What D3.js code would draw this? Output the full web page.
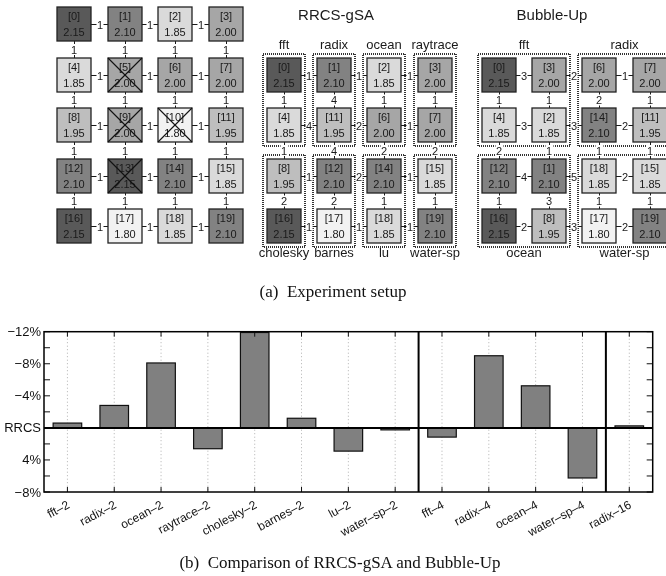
<!DOCTYPE html>
<html><head><meta charset="utf-8">
<script src="https://cdn.jsdelivr.net/npm/d3@7"></script>
<style>body{margin:0;background:#fff}svg{display:block;will-change:transform}</style>
</head><body>
<svg id="c" width="666" height="576"></svg>
<script>
// ---------- DATA ----------
const nodeFreq = [2.15,2.10,1.85,2.00,1.85,2.00,2.00,2.00,1.95,2.00,1.80,1.95,2.10,2.15,2.10,1.85,2.15,1.80,1.85,2.10];
const failedNodes = [5,9,10,13];
const freqLevels = [2.15,2.10,2.00,1.95,1.85,1.80];
const freqGrays = ["#595959","#828282","#a6a6a6","#bebebe","#dadada","#f2f2f2"];

const origLayout = [[0,1,2,3],[4,5,6,7],[8,9,10,11],[12,13,14,15],[16,17,18,19]];
const origH = [[1,1,1],[1,1,1],[1,1,1],[1,1,1],[1,1,1]];
const origV = [[1,1,1,1],[1,1,1,1],[1,1,1,1],[1,1,1,1]];

const rrcsLayout = [[0,1,2,3],[4,11,6,7],[8,12,14,15],[16,17,18,19]];
const rrcsH = [[1,1,1],[4,2,1],[1,2,1],[1,1,1]];
const rrcsV = [[1,4,1,1],[1,4,2,2],[2,2,1,1]];
const rrcsTopGroups = ["fft","radix","ocean","raytrace"];
const rrcsBottomGroups = ["cholesky","barnes","lu","water-sp"];

const bubbleLayout = [[0,3,6,7],[4,2,14,11],[12,1,18,15],[16,8,17,19]];
const bubbleH = [[3,2,1],[3,3,2],[4,5,2],[2,3,2]];
const bubbleV = [[1,1,2,1],[2,1,1,1],[1,3,1,1]];
const bubbleTopGroups = ["fft","radix"];
const bubbleBottomGroups = ["ocean","water-sp"];

const benchmarks = ["fft–2","radix–2","ocean–2","raytrace–2","cholesky–2","barnes–2","lu–2","water–sp–2","fft–4","radix–4","ocean–4","water–sp–4","radix–16"];
const diffValues = [-0.6,-2.8,-8.1,2.6,-11.9,-1.2,2.9,0.25,1.15,-9.0,-5.25,6.25,-0.25];
const yTickValues = [-12,-8,-4,0,4,8];
const yTickLabels = ["−12%","−8%","−4%","RRCS","4%","−8%"];
const yMinorTicks = [-12,-10,-8,-6,-4,-2,0,2,4,6,8];
const groupBreaks = [8,12];

// ---------- DRAW ----------
const svg = d3.select("#c");
const SANS = "'Liberation Sans', Arial, Helvetica, sans-serif";
const SERIF = "'Liberation Serif', 'Times New Roman', serif";
const gray = d3.scaleOrdinal().domain(freqLevels).range(freqGrays);
const BOX = 34;
const INK = "#1a1a1a";

function drawMesh(g, layout, hLab, vLab, xs, ys, failed) {
  const nR = layout.length, nC = layout[0].length;
  layout.forEach((row, r) => {
    for (let c = 0; c < nC - 1; c++) {
      const x1 = xs(c) + BOX, x2 = xs(c + 1), yy = ys(r) + BOX / 2 + 0.5, mx = Math.round((x1 + x2) / 2);
      g.append("line").attr("x1", x1).attr("x2", x2).attr("y1", yy).attr("y2", yy).attr("stroke", INK).attr("stroke-width", 1);
      g.append("rect").attr("x", mx - 3.5).attr("y", yy - 5.5).attr("width", 7).attr("height", 11).attr("fill", "#fff");
      g.append("text").attr("x", mx).attr("y", yy + 4).attr("text-anchor", "middle").attr("font-size", 11).attr("font-family", SANS).attr("fill", INK).text(hLab[r][c]);
    }
  });
  for (let r = 0; r < nR - 1; r++) {
    for (let c = 0; c < nC; c++) {
      const xx = xs(c) + BOX / 2 + 0.5, y1 = ys(r) + BOX, y2 = ys(r + 1), my = (y1 + y2) / 2;
      g.append("line").attr("x1", xx).attr("x2", xx).attr("y1", y1).attr("y2", y2).attr("stroke", INK).attr("stroke-width", 1);
      g.append("rect").attr("x", xx - 4).attr("y", my - 5.5).attr("width", 8).attr("height", 11).attr("fill", "#fff");
      g.append("text").attr("x", xx - 0.5).attr("y", my + 4).attr("text-anchor", "middle").attr("font-size", 11).attr("font-family", SANS).attr("fill", INK).text(vLab[r][c]);
    }
  }
  layout.forEach((row, r) => row.forEach((id, c) => {
    const xx = xs(c), yy = ys(r);
    g.append("rect").attr("x", xx).attr("y", yy).attr("width", BOX).attr("height", BOX)
      .attr("fill", gray(nodeFreq[id])).attr("stroke", "#222").attr("stroke-width", 1.3);
    g.append("text").attr("x", xx + BOX / 2).attr("y", yy + 12.5).attr("text-anchor", "middle").attr("font-size", 11).attr("font-family", SANS).attr("fill", INK).text("[" + id + "]");
    g.append("text").attr("x", xx + BOX / 2).attr("y", yy + 28.5).attr("text-anchor", "middle").attr("font-size", 11).attr("font-family", SANS).attr("fill", INK).text(d3.format(".2f")(nodeFreq[id]));
    if (failed.includes(id)) {
      g.append("line").attr("x1", xx).attr("y1", yy).attr("x2", xx + BOX).attr("y2", yy + BOX).attr("stroke", "#111").attr("stroke-width", 1.1);
      g.append("line").attr("x1", xx + BOX).attr("y1", yy).attr("x2", xx).attr("y2", yy + BOX).attr("stroke", "#111").attr("stroke-width", 1.1);
    }
  }));
}

function groupBox(g, x0, y0, x1, y1) {
  g.append("rect").attr("x", x0).attr("y", y0).attr("width", x1 - x0).attr("height", y1 - y0)
    .attr("fill", "none").attr("stroke", "#333").attr("stroke-width", 2).attr("stroke-dasharray", "1,1");
}
function label(g, xx, yy, t, size) {
  g.append("text").attr("x", xx).attr("y", yy).attr("text-anchor", "middle").attr("font-size", size).attr("font-family", SANS).attr("fill", INK).text(t);
}

const rowY = d3.scaleLinear().domain([0, 1]).range([7, 57.6]).interpolate(d3.interpolateRound);
const gO = svg.append("g");
const origX = d3.scaleLinear().domain([0, 1]).range([57, 107.5]).interpolate(d3.interpolateRound);
drawMesh(gO, origLayout, origH, origV, origX, rowY, failedNodes);

const gR = svg.append("g");
const rrX = d3.scaleLinear().domain([0, 1]).range([267, 317.2]).interpolate(d3.interpolateRound);
const rrY = r => rowY(r + 1);
const P = 4;
rrcsTopGroups.forEach((n, c) => {
  groupBox(gR, rrX(c) - P, rrY(0) - P, rrX(c) + BOX + P, rrY(1) + BOX + P);
  groupBox(gR, rrX(c) - P, rrY(2) - P, rrX(c) + BOX + P, rrY(3) + BOX + P);
});
drawMesh(gR, rrcsLayout, rrcsH, rrcsV, rrX, rrY, []);
rrcsTopGroups.forEach((n, c) => label(gR, rrX(c) + BOX / 2, 49, n, 13));
rrcsBottomGroups.forEach((n, c) => label(gR, rrX(c) + BOX / 2, 257, n, 13));
label(gR, 336, 20, "RRCS-gSA", 15);

const gB = svg.append("g");
const buX = d3.scaleLinear().domain([0, 1]).range([482, 532.2]).interpolate(d3.interpolateRound);
[[0, 0], [0, 1], [1, 0], [1, 1]].forEach(([gr, gc]) => {
  groupBox(gB, buX(gc * 2) - P, rrY(gr * 2) - P, buX(gc * 2 + 1) + BOX + P, rrY(gr * 2 + 1) + BOX + P);
});
drawMesh(gB, bubbleLayout, bubbleH, bubbleV, buX, rrY, []);
bubbleTopGroups.forEach((n, i) => label(gB, (buX(i * 2) + buX(i * 2 + 1) + BOX) / 2, 49, n, 13));
bubbleBottomGroups.forEach((n, i) => label(gB, (buX(i * 2) + buX(i * 2 + 1) + BOX) / 2, 257, n, 13));
label(gB, 552, 20, "Bubble-Up", 15);

svg.append("text").attr("x", 333).attr("y", 297).attr("text-anchor", "middle").attr("font-size", 17).attr("font-family", SERIF).attr("fill", "#111").attr("xml:space", "preserve").text("(a)  Experiment setup");

// ---------- BAR CHART ----------
const L = 44, R = 652.7, T = 331.7, B = 492;
const x = d3.scaleBand().domain(benchmarks).range([L, R]).paddingInner(0.39).paddingOuter(0.195);
const y = d3.scaleLinear().domain([-12, 8]).range([T, B]);
const gC = svg.append("g");
const cx = d => x(d) + x.bandwidth() / 2;

gC.selectAll(".grid").data(benchmarks).join("line")
  .attr("x1", cx).attr("x2", cx).attr("y1", T).attr("y2", B)
  .attr("stroke", "#b0b0b0").attr("stroke-width", 1).attr("stroke-dasharray", "1,2.5");

gC.selectAll(".bar").data(benchmarks).join("rect")
  .attr("x", d => x(d)).attr("width", x.bandwidth())
  .attr("y", (d, i) => Math.min(y(diffValues[i]), y(0)))
  .attr("height", (d, i) => Math.abs(y(diffValues[i]) - y(0)))
  .attr("fill", "#808080").attr("stroke", "#111").attr("stroke-width", 1.2);

gC.selectAll(".tb").data(benchmarks).join("line")
  .attr("x1", cx).attr("x2", cx).attr("y1", B).attr("y2", B - 5).attr("stroke", "#111");
gC.selectAll(".tt").data(benchmarks).join("line")
  .attr("x1", cx).attr("x2", cx).attr("y1", T).attr("y2", T + 5).attr("stroke", "#111");
gC.selectAll(".tl").data(yMinorTicks).join("line")
  .attr("x1", L).attr("x2", L + 6).attr("y1", d => y(d)).attr("y2", d => y(d)).attr("stroke", "#111");
gC.selectAll(".tr").data(yMinorTicks).join("line")
  .attr("x1", R).attr("x2", R - 6).attr("y1", d => y(d)).attr("y2", d => y(d)).attr("stroke", "#111");

gC.append("line").attr("x1", L).attr("x2", R).attr("y1", y(0)).attr("y2", y(0)).attr("stroke", "#000").attr("stroke-width", 2);
groupBreaks.forEach(k => {
  const xb = L + k * x.step();
  gC.append("line").attr("x1", xb).attr("x2", xb).attr("y1", T).attr("y2", B).attr("stroke", "#000").attr("stroke-width", 2);
});
gC.append("rect").attr("x", L).attr("y", T).attr("width", R - L).attr("height", B - T).attr("fill", "none").attr("stroke", "#000").attr("stroke-width", 1.5);

gC.selectAll(".yl").data(yTickValues).join("text")
  .attr("x", L - 3).attr("y", d => y(d) + 4.5).attr("text-anchor", "end")
  .attr("font-size", 13).attr("font-family", SANS).attr("fill", "#111")
  .text((d, i) => yTickLabels[i]);
gC.selectAll(".xl").data(benchmarks).join("text")
  .attr("transform", d => `translate(${cx(d) - 1},${B + 8}) rotate(-28)`)
  .attr("dy", "0.7em").attr("text-anchor", "end")
  .attr("font-size", 12).attr("font-family", SANS).attr("fill", "#111")
  .text(d => d);

svg.append("text").attr("x", 340).attr("y", 568).attr("text-anchor", "middle").attr("font-size", 17).attr("font-family", SERIF).attr("fill", "#111").attr("xml:space", "preserve").text("(b)  Comparison of RRCS-gSA and Bubble-Up");
</script>
</body></html>
